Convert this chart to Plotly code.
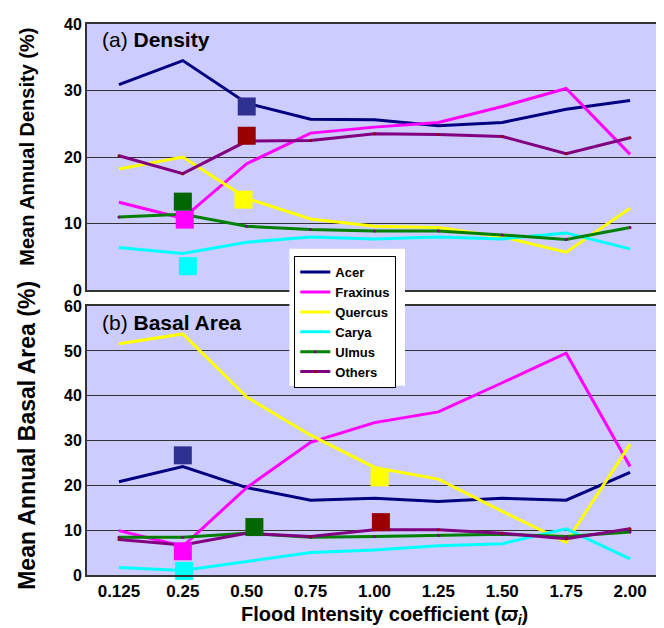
import plotly.graph_objects as go

# ---- data ----
flood_labels = ["0.125", "0.25", "0.50", "0.75", "1.00", "1.25", "1.50", "1.75", "2.00"]
species = ["Acer", "Fraxinus", "Quercus", "Carya", "Ulmus", "Others"]

density_acer = [30.9, 34.5, 28.1, 25.7, 25.6, 24.7, 25.2, 27.2, 28.5]
density_fraxinus = [13.2, 10.8, 19.0, 23.6, 24.5, 25.2, 27.6, 30.3, 20.4]
density_quercus = [18.2, 20.0, 13.8, 10.7, 9.6, 9.4, 8.0, 5.7, 12.3]
density_carya = [6.4, 5.5, 7.2, 8.0, 7.7, 8.0, 7.7, 8.6, 6.2]
density_ulmus = [11.0, 11.4, 9.6, 9.1, 8.9, 8.9, 8.3, 7.6, 9.4]
density_others = [20.2, 17.5, 22.4, 22.5, 23.5, 23.4, 23.1, 20.5, 22.9]

basal_acer = [20.8, 24.2, 19.5, 16.7, 17.1, 16.4, 17.1, 16.7, 22.9]
basal_fraxinus = [9.9, 6.4, 19.5, 29.6, 34.0, 36.4, 42.9, 49.5, 24.2]
basal_quercus = [51.6, 53.8, 39.7, 31.2, 24.0, 21.4, 14.2, 7.3, 29.2]
basal_carya = [1.7, 1.0, 3.0, 5.0, 5.6, 6.5, 7.0, 10.3, 3.6]
basal_ulmus = [8.4, 8.4, 9.3, 8.4, 8.6, 8.8, 9.1, 8.6, 9.6]
basal_others = [7.9, 6.7, 9.3, 8.6, 10.1, 10.1, 9.3, 8.1, 10.3]

# observed values (square symbols), in species order; x is category index
density_obs_x = [2.0, 1.03, 1.95, 1.08, 1.0, 2.0]
density_obs_y = [27.6, 10.6, 13.6, 3.6, 13.3, 23.2]
basal_obs_x = [1.0, 1.0, 4.08, 1.02, 2.12, 4.1]
basal_obs_y = [26.7, 5.3, 21.8, 0.9, 10.7, 11.8]

density_ticks = [0, 10, 20, 30, 40]
basal_ticks = [0, 10, 20, 30, 40, 50, 60]

# ---- styles ----
line_colors = ["#000080", "#FF00FF", "#FFFF00", "#00FFFF", "#008000", "#800080"]
dot_colors = [None, None, None, None, "#800080", "#990000"]
square_colors = ["#2E3192", "#FF00FF", "#FFFF00", "#00FFFF", "#006600", "#990000"]
FONT = "Liberation Sans, Arial, sans-serif"

density = [density_acer, density_fraxinus, density_quercus, density_carya, density_ulmus, density_others]
basal = [basal_acer, basal_fraxinus, basal_quercus, basal_carya, basal_ulmus, basal_others]
xi = list(range(len(flood_labels)))

fig = go.Figure()

for i, name in enumerate(species):
    mk = dict(size=3, color=dot_colors[i]) if dot_colors[i] else None
    mode = "lines+markers" if mk else "lines"
    fig.add_trace(go.Scatter(x=xi, y=density[i], name=name, mode=mode,
                             line=dict(color=line_colors[i], width=3),
                             marker=mk, xaxis="x", yaxis="y", showlegend=True))
    fig.add_trace(go.Scatter(x=xi, y=basal[i], name=name, mode=mode,
                             line=dict(color=line_colors[i], width=3),
                             marker=mk, xaxis="x2", yaxis="y2", showlegend=False))

for i, name in enumerate(species):
    fig.add_trace(go.Scatter(x=[density_obs_x[i]], y=[density_obs_y[i]], mode="markers",
                             marker=dict(symbol="square", size=18, color=square_colors[i],
                                         line=dict(width=0)),
                             xaxis="x", yaxis="y", showlegend=False, cliponaxis=False))
    fig.add_trace(go.Scatter(x=[basal_obs_x[i]], y=[basal_obs_y[i]], mode="markers",
                             marker=dict(symbol="square", size=18, color=square_colors[i],
                                         line=dict(width=0)),
                             xaxis="x2", yaxis="y2", showlegend=False, cliponaxis=False))

line_common = dict(showline=True, linecolor="#333333", linewidth=2, mirror=True,
                   zeroline=False, ticks="")
xtick_font = dict(family=FONT, size=17, color="black", weight="bold")
ytick_font = dict(family=FONT, size=16, color="black", weight="bold")

fig.update_layout(
    width=664, height=628,
    margin=dict(l=79, r=8, t=14, b=61),
    paper_bgcolor="white", plot_bgcolor="#CCCCFF",
    font=dict(family=FONT, color="black"),
    xaxis=dict(domain=[0, 1], range=[-0.5, 8.5], anchor="y", showgrid=False,
               showticklabels=False, **line_common),
    yaxis=dict(domain=[0.517, 1], range=[0, 40], anchor="x", tickvals=density_ticks,
               showgrid=True, gridcolor="#333333", gridwidth=1.2, tickfont=ytick_font,
               **line_common),
    xaxis2=dict(domain=[0, 1], range=[-0.5, 8.5], anchor="y2", showgrid=False,
                tickvals=xi, ticktext=flood_labels, tickfont=xtick_font, **line_common),
    yaxis2=dict(domain=[0, 0.488], range=[0, 60], anchor="x2", tickvals=basal_ticks,
                showgrid=True, gridcolor="#333333", gridwidth=1.2, tickfont=ytick_font,
                **line_common),
    legend=dict(x=0.3605, y=0.5787, xanchor="left", yanchor="top",
                bgcolor="white", bordercolor="black", borderwidth=1,
                font=dict(family=FONT, size=13, color="black", weight="bold"),
                tracegroupgap=0, itemwidth=30),
    shapes=[dict(type="rect", xref="paper", yref="paper", x0=0.352, x1=0.553,
                 y0=0.3436, y1=0.592, fillcolor="white", line=dict(width=0), layer="above")],
    annotations=[
        dict(text="(a) <b>Density</b>", xref="paper", yref="paper", x=0.0225, y=0.971,
             xanchor="left", yanchor="middle", showarrow=False,
             font=dict(family=FONT, size=21, color="black")),
        dict(text="(b) <b>Basal Area</b>", xref="paper", yref="paper", x=0.0225, y=0.4575,
             xanchor="left", yanchor="middle", showarrow=False,
             font=dict(family=FONT, size=21, color="black")),
        dict(text="<b>Mean Annual Density (%)</b>", xref="paper", yref="paper",
             x=-0.1057, y=0.7776, textangle=-90, xanchor="center", yanchor="middle",
             showarrow=False, font=dict(family=FONT, size=20, color="black")),
        dict(text="<b>Mean Annual Basal Area (%)</b>", xref="paper", yref="paper",
             x=-0.1057, y=0.253, textangle=-90, xanchor="center", yanchor="middle",
             showarrow=False, font=dict(family=FONT, size=23, color="black")),
        dict(text="<b>Flood Intensity coefficient (<i>ϖ</i><sub><i>i</i></sub>)</b>",
             xref="paper", yref="paper", x=0.518, y=-0.074, xanchor="center", yanchor="middle",
             showarrow=False, font=dict(family=FONT, size=20, color="black")),
    ],
)

fig.write_html("out.html")
